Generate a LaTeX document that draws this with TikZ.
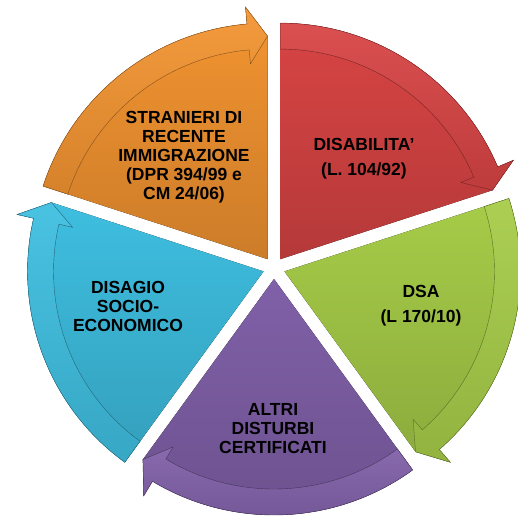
\documentclass[tikz,border=0pt]{standalone}
\usepackage{fontspec}
\setmainfont{Liberation Sans}
\definecolor{segred}{HTML}{D84444}
\definecolor{seggreen}{HTML}{A6CC48}
\definecolor{segpurple}{HTML}{8060A8}
\definecolor{segcyan}{HTML}{3EBEE0}
\definecolor{segorange}{HTML}{F39431}
\begin{document}
\begin{tikzpicture}[x=1pt,y=1pt,
    seglabel/.style={font=\bfseries\fontsize{17.5}{19}\selectfont,align=center,text=black}]
\useasboundingbox (0,0) rectangle (518,515);
\coordinate (hub) at (274,247);
\def\Ro{236}\def\Ri{210}\def\Rm{223}
% five pieces, each pushed out from the hub, with its arrow on the rim
\foreach \aa/\ab/\col in {90/18/segred, 18/-54/seggreen, -54/-126/segpurple,
    -126/-198/segcyan, 162/90/segorange} {
  \pgfmathsetmacro\am{(\aa+\ab)/2}
  \pgfmathsetmacro\ah{\ab+5}
  \begin{scope}[shift={(hub)},shift={(\am:11)}]
    \fill[top color=\col,bottom color=\col!84!black]
      (0,0) -- (\aa:\Ro) arc[start angle=\aa,end angle=\ah,radius=\Ro]
      -- (\ah:253) -- (\ab:\Rm) -- cycle;
    \draw[top color=\col!94!white,bottom color=\col!88!black,draw=\col!55!black,line width=0.4pt]
      (\aa:\Ri) -- (\aa:\Ro) arc[start angle=\aa,end angle=\ah,radius=\Ro]
      -- (\ah:253) -- (\ab:\Rm) -- (\ah:196) -- (\ah:\Ri)
      arc[start angle=\ah,end angle=\aa,radius=\Ri] -- cycle;
  \end{scope}
}
\node[seglabel] (stranieri) at (184,358)
    {STRANIERI DI\\RECENTE\\IMMIGRAZIONE\\(DPR 394/99 e\\CM 24/06)};
\node[seglabel] (disabilita) at (364,356) {DISABILITA’\\[6pt](L. 104/92)};
\node[seglabel] (dsa) at (421,209) {DSA\\[6pt](L 170/10)};
\node[seglabel] (altri) at (273,86) {ALTRI\\DISTURBI\\CERTIFICATI};
\node[seglabel] (disagio) at (128,209) {DISAGIO\\SOCIO-\\ECONOMICO};
\end{tikzpicture}
\end{document}
